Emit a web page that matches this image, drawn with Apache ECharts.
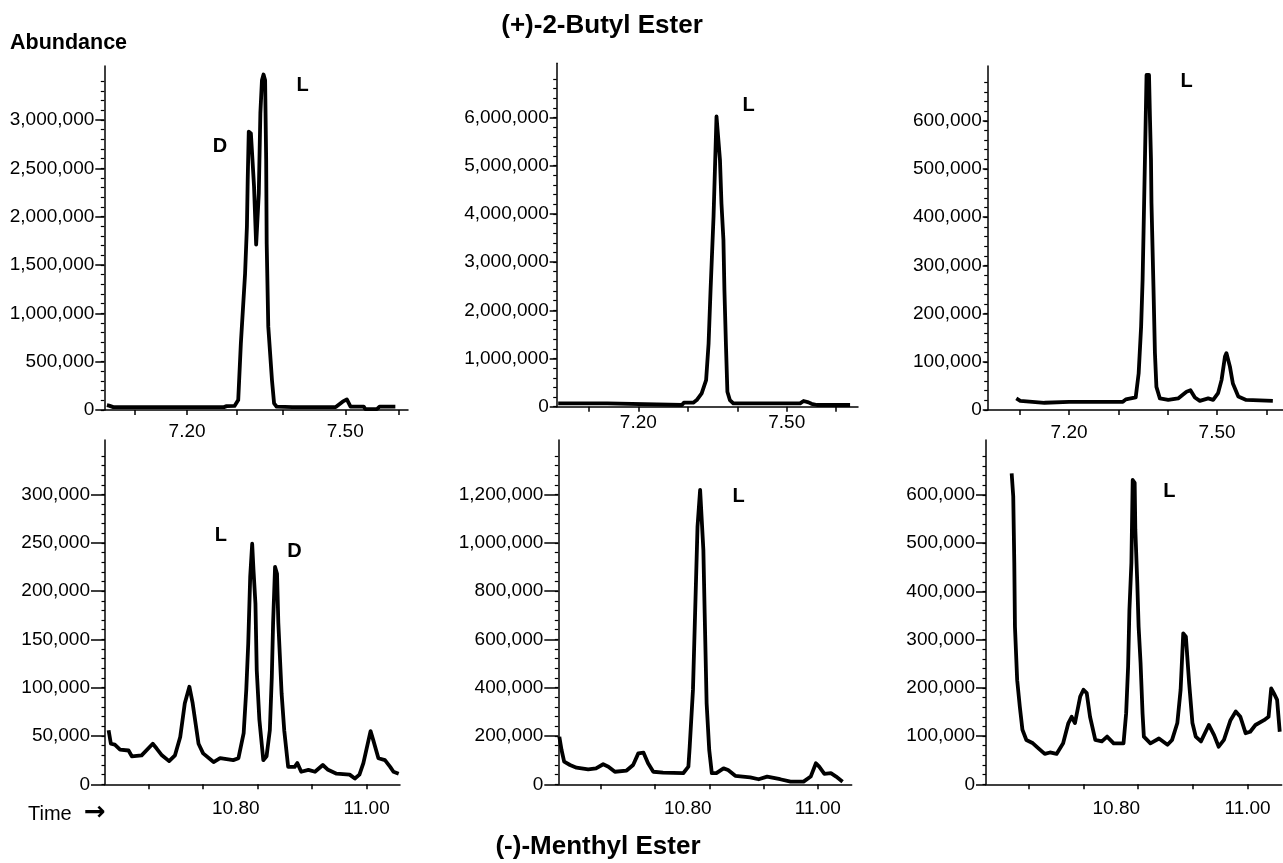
<!DOCTYPE html>
<html>
<head>
<meta charset="utf-8">
<script src="https://cdn.jsdelivr.net/npm/echarts@6/dist/echarts.min.js"></script>
<style>
html,body{margin:0;padding:0;background:#fff;}
#chart{width:1283px;height:863px;}
</style>
</head>
<body>
<div id="chart"></div>
<script>
// ---------- Titles / labels ----------
const topTitle = '(+)-2-Butyl Ester';
const bottomTitle = '(-)-Menthyl Ester';
const yAxisTitle = 'Abundance';
const xAxisTitle = 'Time';

// ---------- Tick values ----------
const p1XTicks = [7.101, 7.20, 7.294, 7.382, 7.50, 7.601];
const topXTicks = [7.10, 7.20, 7.30, 7.40, 7.50, 7.60];
const topXLabels = [7.20, 7.50];
const bottomXTicks = [10.6667, 10.75, 10.8333, 10.9167, 11.0];
const bottomXLabels = [10.80, 11.00];

const p1YTicks = [0, 500000, 1000000, 1500000, 2000000, 2500000, 3000000];
const p2YTicks = [0, 1000000, 2000000, 3000000, 4000000, 5000000, 6000000];
const p3YTicks = [0, 100000, 200000, 300000, 400000, 500000, 600000];
const p4YTicks = [0, 50000, 100000, 150000, 200000, 250000, 300000];
const p5YTicks = [0, 200000, 400000, 600000, 800000, 1000000, 1200000];
const p6YTicks = [0, 100000, 200000, 300000, 400000, 500000, 600000];

// ---------- Panel 1: (+)-2-butyl ester, sample 1 ----------
const p1Time = [7.048, 7.052, 7.06, 7.10, 7.20, 7.27, 7.275, 7.29, 7.297, 7.302, 7.31, 7.3135, 7.315, 7.317, 7.321, 7.324, 7.327, 7.331, 7.334, 7.336, 7.339, 7.342, 7.345, 7.348, 7.35, 7.351, 7.354, 7.361, 7.365, 7.37, 7.40, 7.482, 7.495, 7.503, 7.51, 7.535, 7.538, 7.56, 7.565, 7.595];
const p1Abund = [50000, 45000, 30000, 30000, 30000, 30000, 40000, 42000, 103000, 690000, 1410000, 1900000, 2380000, 2880000, 2860000, 2590000, 2310000, 1710000, 1720000, 2240000, 3070000, 3410000, 3470000, 3410000, 2590000, 1720000, 862000, 310000, 69000, 34000, 30000, 30000, 86000, 110000, 35000, 35000, 10000, 10000, 35000, 35000];

// ---------- Panel 2 ----------
const p2Time = [7.038, 7.137, 7.14, 7.288, 7.292, 7.311, 7.318, 7.328, 7.337, 7.342, 7.346, 7.352, 7.355, 7.358, 7.362, 7.365, 7.368, 7.372, 7.374, 7.377, 7.38, 7.385, 7.392, 7.527, 7.534, 7.544, 7.55, 7.561, 7.628];
const p2Abund = [69000, 69000, 35000, 35000, 83000, 83000, 138000, 277000, 553000, 1310000, 2420000, 3940000, 4980000, 6020000, 6050000, 5120000, 4220000, 3460000, 2420000, 1310000, 311000, 138000, 69000, 69000, 118000, 90000, 60000, 35000, 35000];

// ---------- Panel 3 ----------
const p3Time = [7.093, 7.101, 7.15, 7.20, 7.25, 7.309, 7.315, 7.335, 7.341, 7.346, 7.349, 7.351, 7.354, 7.357, 7.362, 7.364, 7.366, 7.367, 7.371, 7.374, 7.377, 7.384, 7.401, 7.421, 7.438, 7.446, 7.455, 7.465, 7.482, 7.492, 7.502, 7.509, 7.516, 7.519, 7.526, 7.532, 7.543, 7.559, 7.613];
const p3Abund = [24000, 19000, 15000, 17000, 17000, 17000, 22000, 26000, 76000, 173000, 270000, 373000, 533000, 695000, 695000, 602000, 519000, 429000, 256000, 118000, 48000, 24000, 21000, 24000, 38000, 41000, 26000, 19000, 24000, 21000, 35000, 62000, 111000, 118000, 90000, 55000, 28000, 21000, 19000];

// ---------- Panel 4: (-)-menthyl ester ----------
const p4Time = [10.6055, 10.609, 10.615, 10.623, 10.636, 10.641, 10.656, 10.673, 10.679, 10.687, 10.698, 10.707, 10.715, 10.722, 10.729, 10.734, 10.743, 10.75, 10.766, 10.776, 10.796, 10.804, 10.812, 10.816, 10.819, 10.822, 10.825, 10.827, 10.83, 10.832, 10.836, 10.842, 10.847, 10.852, 10.855, 10.857, 10.86, 10.863, 10.865, 10.87, 10.874, 10.88, 10.89, 10.894, 10.9, 10.911, 10.921, 10.933, 10.941, 10.954, 10.974, 10.982, 10.989, 10.995, 11.006, 11.01, 11.018, 11.028, 11.036, 11.041, 11.049];
const p4Abund = [56000, 42000, 41000, 36000, 35000, 29000, 30000, 42000, 37000, 30000, 24000, 30000, 49000, 84000, 101000, 84000, 42000, 32000, 23000, 27000, 25000, 27000, 53000, 98000, 146000, 215000, 249000, 222000, 187000, 118000, 67000, 25000, 29000, 56000, 111000, 167000, 225000, 218000, 167000, 94000, 56000, 18000, 18000, 22000, 13000, 15000, 13000, 20000, 15000, 11000, 10000, 6000, 10000, 22000, 55000, 46000, 27000, 25000, 18000, 13000, 11000];

// ---------- Panel 5 ----------
const p5Time = [10.6026, 10.606, 10.61, 10.619, 10.629, 10.647, 10.659, 10.67, 10.678, 10.688, 10.706, 10.716, 10.724, 10.732, 10.739, 10.747, 10.762, 10.793, 10.801, 10.803, 10.808, 10.812, 10.815, 10.819, 10.821, 10.824, 10.826, 10.829, 10.833, 10.837, 10.844, 10.855, 10.862, 10.873, 10.896, 10.909, 10.922, 10.942, 10.958, 10.978, 10.989, 10.997, 11.002, 11.01, 11.02, 11.028, 11.038];
const p5Abund = [197000, 142000, 94000, 80000, 69000, 62000, 66000, 83000, 73000, 52000, 57000, 80000, 128000, 131000, 87000, 52000, 48000, 46000, 73000, 156000, 391000, 777000, 1067000, 1219000, 1219000, 970000, 708000, 335000, 142000, 46000, 46000, 66000, 59000, 35000, 29000, 21000, 32000, 21000, 11000, 11000, 32000, 87000, 73000, 43000, 46000, 32000, 11000];

// ---------- Panel 6 ----------
const p6Time = [10.6406, 10.643, 10.6446, 10.6456, 10.649, 10.653, 10.657, 10.663, 10.673, 10.681, 10.691, 10.699, 10.709, 10.719, 10.727, 10.732, 10.737, 10.745, 10.75, 10.755, 10.76, 10.768, 10.778, 10.786, 10.796, 10.811, 10.815, 10.818, 10.82, 10.823, 10.825, 10.828, 10.829, 10.832, 10.834, 10.837, 10.84, 10.842, 10.852, 10.865, 10.878, 10.885, 10.893, 10.898, 10.902, 10.906, 10.911, 10.916, 10.921, 10.929, 10.941, 10.949, 10.956, 10.964, 10.974, 10.982, 10.989, 10.997, 11.004, 11.012, 11.025, 11.032, 11.036, 11.04, 11.045, 11.049];
const p6Abund = [645000, 597000, 459000, 327000, 216000, 161000, 113000, 92000, 85000, 75000, 63000, 66000, 63000, 85000, 127000, 140000, 127000, 182000, 196000, 189000, 140000, 92000, 89000, 99000, 85000, 85000, 147000, 244000, 362000, 459000, 631000, 625000, 528000, 417000, 327000, 251000, 147000, 99000, 85000, 95000, 82000, 92000, 127000, 196000, 313000, 306000, 210000, 127000, 99000, 89000, 123000, 102000, 78000, 92000, 133000, 151000, 140000, 106000, 109000, 123000, 133000, 140000, 199000, 189000, 175000, 109000];

// ---------- Peak annotations [time, abundance, text] ----------
const p1Peaks = [[7.2626, 2724000, 'D'], [7.419, 3354000, 'L']];
const p2Peaks = [[7.4227, 6259000, 'L']];
const p3Peaks = [[7.438, 681000, 'L']];
const p4Peaks = [[10.777, 258000, 'L'], [10.8898, 240800, 'D']];
const p5Peaks = [[10.878, 1191000, 'L']];
const p6Peaks = [[10.881, 607000, 'L']];

// ---------- Layout ----------
const FONT = '"Liberation Sans", Arial, Helvetica, sans-serif';
function range(step, max) { const r = []; for (let v = 0; v <= max + 1e-6; v += step) r.push(Math.round(v)); return r; }
const panels = [
  {time: p1Time, ab: p1Abund, peaks: p1Peaks, grid: [104.3, 66, 303.7, 344], xmin: 7.043, xmax: 7.619, ymax: 3558000,
   xt: p1XTicks, xl: topXLabels, yt: p1YTicks, minor: range(100000, 3400000), ym: 10, xm: 12},
  {time: p2Time, ab: p2Abund, peaks: p2Peaks, grid: [556.7, 63.3, 301.3, 343.4], xmin: 7.035, xmax: 7.644, ymax: 7124000,
   xt: topXTicks, xl: topXLabels, yt: p2YTicks, minor: range(200000, 6800000), ym: 8, xm: 7},
  {time: p3Time, ab: p3Abund, peaks: p3Peaks, grid: [987.7, 66, 295, 344], xmin: 7.035, xmax: 7.633, ymax: 713700,
   xt: topXTicks, xl: topXLabels, yt: p3YTicks, minor: range(20000, 680000), ym: 6, xm: 13},
  {time: p4Time, ab: p4Abund, peaks: p4Peaks, grid: [105, 440, 295, 344.3], xmin: 10.60, xmax: 11.051, ymax: 356400,
   xt: bottomXTicks, xl: bottomXLabels, yt: p4YTicks, minor: range(10000, 340000), ym: 15, xm: 15},
  {time: p5Time, ab: p5Abund, peaks: p5Peaks, grid: [558.3, 440, 293.4, 344.3], xmin: 10.601, xmax: 11.052, ymax: 1425700,
   xt: bottomXTicks, xl: bottomXLabels, yt: p5YTicks, minor: range(40000, 1360000), ym: 15, xm: 15},
  {time: p6Time, ab: p6Abund, peaks: p6Peaks, grid: [986, 440, 295.7, 344.3], xmin: 10.6015, xmax: 11.052, ymax: 714000,
   xt: bottomXTicks, xl: bottomXLabels, yt: p6YTicks, minor: range(20000, 680000), ym: 11, xm: 15}
];

const comma = v => String(Math.round(v)).replace(/\B(?=(\d{3})+(?!\d))/g, ',');
const axisLineStyle = {color: '#000', width: 1.5};

const grids = [], xAxes = [], yAxes = [], series = [];
panels.forEach((p, i) => {
  grids.push({left: p.grid[0], top: p.grid[1], width: p.grid[2], height: p.grid[3], containLabel: false});
  xAxes.push({
    type: 'value', gridIndex: i, min: p.xmin, max: p.xmax,
    axisLine: {show: true, onZero: false, lineStyle: axisLineStyle},
    axisTick: {show: true, customValues: p.xt, length: 5, lineStyle: axisLineStyle},
    axisLabel: {show: true, customValues: p.xl, formatter: v => v.toFixed(2), margin: p.xm,
      fontSize: 19, fontFamily: FONT, color: '#000'},
    splitLine: {show: false}
  });
  yAxes.push({
    type: 'value', gridIndex: i, min: 0, max: p.ymax, position: 'left',
    axisLine: {show: true, onZero: false, lineStyle: axisLineStyle},
    axisTick: {show: true, customValues: p.yt, length: p.ym - 1, lineStyle: axisLineStyle},
    axisLabel: {show: true, customValues: p.yt, formatter: comma, margin: p.ym,
      fontSize: 19, fontFamily: FONT, color: '#000'},
    splitLine: {show: false}
  });
  yAxes.push({
    type: 'value', gridIndex: i, min: 0, max: p.ymax, position: 'left',
    axisLine: {show: false},
    axisTick: {show: true, customValues: p.minor, length: 3.5, lineStyle: {color: '#000', width: 1.2}},
    axisLabel: {show: false},
    splitLine: {show: false}
  });
  series.push({
    type: 'line', xAxisIndex: i, yAxisIndex: 2 * i,
    data: p.time.map((t, k) => [t, p.ab[k]]),
    showSymbol: false, symbol: 'none',
    lineStyle: {color: '#000', width: 3.8, join: 'round'},
    silent: true
  });
  series.push({
    type: 'scatter', xAxisIndex: i, yAxisIndex: 2 * i,
    data: p.peaks.map(q => ({value: [q[0], q[1]], name: q[2]})),
    symbolSize: 1, itemStyle: {color: 'rgba(0,0,0,0)', opacity: 1},
    label: {show: true, position: 'inside', formatter: d => d.name, opacity: 1,
      textBorderWidth: 0, textBorderColor: 'transparent',
      fontSize: 20, fontWeight: 'bold', fontFamily: FONT, color: '#000'},
    emphasis: {disabled: true},
    silent: true
  });
});

const chart = echarts.init(document.getElementById('chart'), null, {renderer: 'canvas'});
chart.setOption({
  animation: false,
  backgroundColor: '#fff',
  grid: grids, xAxis: xAxes, yAxis: yAxes, series: series,
  graphic: [
    {type: 'text', x: 602, y: 26, style: {text: topTitle, font: 'bold 26px ' + FONT, fill: '#000', textAlign: 'center', textVerticalAlign: 'middle'}},
    {type: 'text', x: 598, y: 847, style: {text: bottomTitle, font: 'bold 26px ' + FONT, fill: '#000', textAlign: 'center', textVerticalAlign: 'middle'}},
    {type: 'text', x: 10, y: 43, style: {text: yAxisTitle, font: 'bold 21.5px ' + FONT, fill: '#000', textAlign: 'left', textVerticalAlign: 'middle'}},
    {type: 'text', x: 28, y: 814, style: {text: xAxisTitle, font: '20px ' + FONT, fill: '#000', textAlign: 'left', textVerticalAlign: 'middle'}},
    {type: 'text', x: 84, y: 813, style: {text: '\u2192', font: 'bold 26px "DejaVu Sans", ' + FONT, fill: '#000', textAlign: 'left', textVerticalAlign: 'middle'}}
  ]
});
</script>
</body>
</html>
